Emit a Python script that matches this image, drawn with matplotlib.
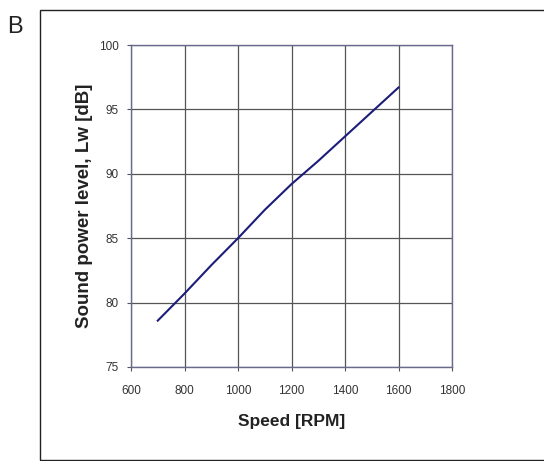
import matplotlib
matplotlib.use('Agg')
import matplotlib.pyplot as plt
from matplotlib.patches import Rectangle

# Sound power level vs fan speed
speed = [700, 800, 900, 1000, 1100, 1200, 1300, 1400, 1500, 1600]
lw_db = [78.6, 80.7, 82.9, 85.0, 87.2, 89.2, 91.0, 92.9, 94.8, 96.7]

x_ticks = [600, 800, 1000, 1200, 1400, 1600, 1800]
y_ticks = [75, 80, 85, 90, 95, 100]

plt.rcParams['font.family'] = ['Liberation Sans', 'DejaVu Sans']

fig = plt.figure(figsize=(5.44, 4.61), dpi=100)
fig.patch.set_facecolor('white')

# outer panel frame
fig.patches.append(Rectangle((40/544, 1 - 460/461), 1.0, 450/461,
                             transform=fig.transFigure, fill=False,
                             edgecolor='#222222', linewidth=1.0))
fig.text(7/544, 1 - 33/461, 'B', fontsize=17, color='#222222')

ax = fig.add_axes([131/544, 1 - 367/461, 321/544, 322/461])
ax.plot(speed, lw_db, color='#1c1c7a', linewidth=1.5)

ax.set_xlim(600, 1800)
ax.set_ylim(75, 100)
ax.set_xticks(x_ticks)
ax.set_yticks(y_ticks)
ax.grid(color='#555555', linewidth=0.9)
ax.set_axisbelow(True)
for s in ax.spines.values():
    s.set_color('#6a6a90')
    s.set_linewidth(1.0)
ax.tick_params(direction='out', length=3, width=0.8, color='#555555',
               labelsize=8.5, labelcolor='#333333', pad=6)
ax.tick_params(axis='x', pad=10)

ax.set_xlabel('Speed [RPM]', fontsize=12.5, fontweight='bold', color='#222222', labelpad=12)
ax.set_ylabel('Sound power level, Lw [dB]', fontsize=13.5, fontweight='bold', color='#222222', labelpad=4)

fig.savefig('out.png', dpi=100)
